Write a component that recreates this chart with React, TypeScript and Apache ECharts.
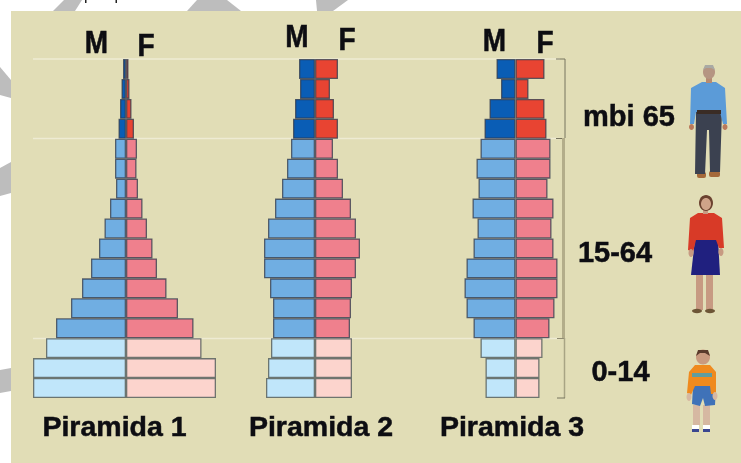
import React, { useEffect, useRef } from "react";
import * as echarts from "echarts";

const ageRows = ["R1","R2","R3","R4","R5","R6","R7","R8","R9","R10","R11","R12","R13","R14","R15","R16","R17"];
const male1 = [3,4.5,6,7.5,11,11,10,16,21.5,27,35,44,55,70,80,93,93];
const female1 = [2.5,3.5,5.5,8,11,10.5,12,16.5,21,26.5,31,40.5,52,67.5,75.5,90,90];
const male2 = [16,15,20,22,24,28,33,40,47,51,51,45,42,42,44,47,49];
const female2 = [23,15,19,23,18,23,28,36,41,45,41,37,36,35,37,37,37];
const male3 = [19,14.5,26,31,35,39,37,43,38,42,49,51,49,42,35,30,30];
const female3 = [29,13,29,31,35,35,32,38,36,38,42,42,39,34,27,24,24];
const pyramidTitles = ["Piramida 1","Piramida 2","Piramida 3"];
const ageBandLabels = ["mbi 65","15-64","0-14"];

const centers = [126, 315, 515.5];
const HALF = 110;
const TOP = 59;
const HEIGHT = 339;

const maleColor = (i: number) => (i < 4 ? "#0a5db5" : i < 14 ? "#70aee2" : "#c0e6fa");
const femaleColor = (i: number) => (i < 4 ? "#e84432" : i < 14 ? "#ef808d" : "#fcd4cd");
const edge = (i: number) => (i < 14 ? "rgba(45,55,75,0.75)" : "rgba(80,90,90,0.8)");

function barSeries(values: number[], idx: number, sign: number, color: (i: number) => string) {
  return {
    type: "bar" as const,
    xAxisIndex: idx,
    yAxisIndex: idx,
    barGap: "-100%",
    barCategoryGap: 0,
    silent: true,
    data: values.map((v, i) => ({
      value: sign * v,
      itemStyle: { color: color(i), borderColor: edge(i), borderWidth: 1.3 },
    })),
  };
}

const label = (text: string, cx: number, cy: number, size: number, scaleY = 1) => ({
  type: "text",
  x: cx,
  y: cy,
  scaleY,
  style: {
    text,
    fill: "#0d0d12",
    stroke: "#0d0d12",
    lineWidth: 0.5,
    font: `bold ${size}px "Liberation Sans", Arial, sans-serif`,
    textAlign: "center",
    textVerticalAlign: "middle",
  },
});

const poly = (points: number[][], fill: string) => ({ type: "polygon", shape: { points }, style: { fill } });
const box = (x: number, y: number, width: number, height: number, fill: string, r = 0) => ({
  type: "rect", shape: { x, y, width, height, r }, style: { fill },
});
const oval = (cx: number, cy: number, rx: number, ry: number, fill: string) => ({
  type: "ellipse", shape: { cx, cy, rx, ry }, style: { fill },
});
const hline = (x1: number, x2: number, y: number, stroke: string, lineWidth: number) => ({
  type: "line", shape: { x1, y1: y, x2, y2: y }, style: { stroke, lineWidth },
});
const vline = (x: number, y1: number, y2: number, stroke: string, lineWidth: number) => ({
  type: "line", shape: { x1: x, y1, x2: x, y2 }, style: { stroke, lineWidth },
});

const GRAY = "#bdbdbd";
const watermark = [
  poly([[53,11],[75,11],[82,0],[64,0]], GRAY),
  poly([[187,11],[197,0],[227,0],[241,11]], GRAY),
  poly([[317,11],[316,0],[348,0],[333,11]], GRAY),
  poly([[0,67],[11,80],[11,98],[0,95]], GRAY),
  poly([[0,168],[11,162],[11,193],[0,196]], GRAY),
  poly([[0,370],[11,368],[11,391],[0,393]], GRAY),
  box(85, 0, 1.5, 3, "#222"),
  box(115.5, 0, 1.5, 3, "#222"),
];

const man = [
  box(697, 172, 9, 6, "#a5693a", 2),
  box(709, 171, 11, 6, "#a5693a", 2),
  poly([[696,111],[722,111],[720,172],[710,172],[709,130],[707,130],[705,174],[695,174]], "#3b4150"),
  poly([[702,82],[716,82],[725,88],[727,124],[723,124],[720,112],[696,112],[694,124],[690,124],[691,88]], "#5b9bd8"),
  box(697, 110, 24, 4, "#3a2c25"),
  oval(691.5, 127, 2.5, 3, "#b9795a"),
  oval(725, 127, 2.5, 3, "#b9795a"),
  box(706, 77, 6, 6, "#b58a72"),
  oval(709, 72, 6, 7, "#b59582"),
  poly([[703,70],[705,65],[713,65],[715,70],[711,68],[706,68]], "#a9a9a4"),
];
const woman = [
  box(696, 275, 7, 35, "#c79a82"),
  box(706, 275, 7, 35, "#c79a82"),
  oval(697, 311, 5, 2.2, "#6d5536"),
  oval(710, 311, 5, 2.2, "#6d5536"),
  poly([[695,239],[718,239],[720,275],[691,275]], "#20207f"),
  poly([[698,213],[714,213],[722,218],[724,248],[719,248],[716,240],[696,240],[693,252],[688,250],[690,218]], "#d83a27"),
  oval(691, 253, 2.5, 4, "#c79a82"),
  oval(721, 252, 2.5, 4, "#c79a82"),
  box(703, 208, 5, 6, "#c79a82"),
  oval(706, 203, 7, 8, "#6b4230"),
  oval(706, 204, 5, 6, "#cfa389"),
];
const boy = [
  box(693, 405, 7, 20, "#d6b8a2"),
  box(703, 405, 7, 20, "#d6b8a2"),
  box(692, 425, 7, 4, "#ffffff"),
  box(703, 425, 7, 4, "#ffffff"),
  box(692, 429, 7, 3, "#3a4690"),
  box(703, 429, 7, 3, "#3a4690"),
  poly([[693,386],[716,386],[715,405],[705,406],[703,398],[700,406],[692,404]], "#3f72b8"),
  poly([[695,365],[710,365],[716,372],[716,394],[711,394],[710,386],[695,386],[691,395],[687,393],[689,372]], "#ef8a1e"),
  box(692, 373, 20, 4, "#5f9d9f"),
  oval(689, 397, 2.5, 4, "#d6b8a2"),
  oval(715, 396, 2.5, 4, "#d6b8a2"),
  oval(703, 357, 7, 7.5, "#c99a7f"),
  poly([[696,356],[698,350],[708,350],[710,356],[705,353],[700,353]], "#5a3b2c"),
];

export default function App() {
  const ref = useRef<HTMLDivElement>(null);
  useEffect(() => {
    document.body.style.margin = "0";
    const chart = echarts.init(ref.current!, null, { renderer: "svg" });
    const males = [male1, male2, male3];
    const females = [female1, female2, female3];
    chart.setOption({
      animation: false,
      backgroundColor: "#ffffff",
      grid: centers.map((c) => ({ left: c - HALF, width: 2 * HALF, top: TOP, height: HEIGHT, containLabel: false })),
      xAxis: centers.map((_, i) => ({ type: "value", gridIndex: i, min: -HALF, max: HALF, show: false })),
      yAxis: centers.map((_, i) => ({ type: "category", gridIndex: i, inverse: true, data: ageRows, show: false })),
      series: centers.flatMap((_, i) => [
        barSeries(males[i], i, -1, maleColor),
        barSeries(females[i], i, 1, femaleColor),
      ]),
      graphic: [
        ...watermark,
        box(11, 11, 730, 452, "#e1ddb6"),
        hline(33, 560, 59, "#eeebd3", 1.5),
        hline(33, 560, 138.5, "#eeebd3", 1.5),
        hline(33, 560, 338.5, "#eeebd3", 1.5),
        hline(556, 565, 59, "#77745f", 1),
        vline(565, 59, 138, "#77745f", 1),
        hline(556, 565, 138.5, "#77745f", 1),
        vline(563.5, 138, 338, "#b3ad8a", 3),
        hline(557, 565, 338.5, "#8f8b72", 1),
        vline(564.5, 338, 398, "#a8a484", 1.5),
        hline(557, 565, 398, "#77745f", 1),
        label("M", 96.5, 41.5, 28, 1.15),
        label("F", 146, 44.5, 28, 1.15),
        label("M", 297, 35.5, 28, 1.15),
        label("F", 347, 38.5, 28, 1.15),
        label("M", 494.5, 40, 28, 1.15),
        label("F", 545, 42, 28, 1.15),
        label(pyramidTitles[0], 114.5, 426, 28.5),
        label(pyramidTitles[1], 321, 426, 28.5),
        label(pyramidTitles[2], 512, 426, 28.5),
        label(ageBandLabels[0], 629, 115.5, 29),
        label(ageBandLabels[1], 615, 252, 29),
        label(ageBandLabels[2], 620.5, 371, 29),
        ...man,
        ...woman,
        ...boy,
      ],
    });
    return () => chart.dispose();
  }, []);
  return (
    <div
      ref={ref}
      style={{ position: "absolute", left: 0, top: 0, width: 741, height: 463, filter: "blur(0.45px)" }}
    />
  );
}
